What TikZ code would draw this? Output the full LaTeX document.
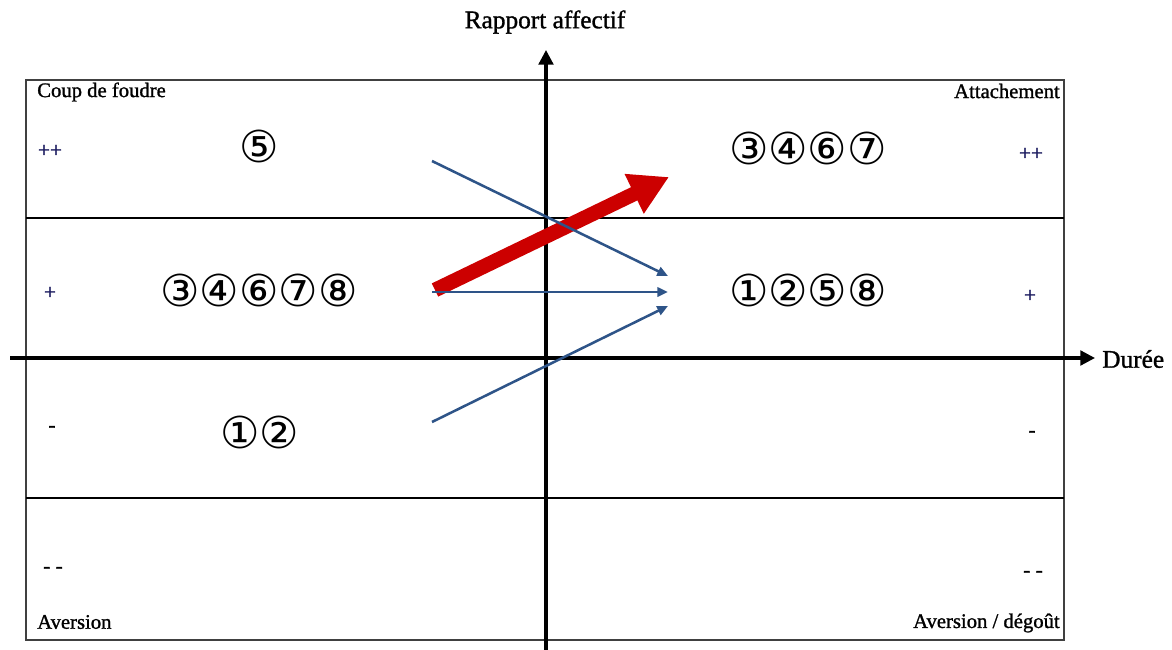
\documentclass[tikz,border=0pt]{standalone}
\usepackage{fontspec}
\setmainfont{Liberation Serif}
\newfontfamily\labelfont[FakeBold=1.2]{Liberation Serif}
\newfontfamily\circfont{DejaVu Sans}
\usetikzlibrary{arrows.meta,positioning}
\definecolor{trendblue}{RGB}{46,84,136}
\definecolor{trendred}{RGB}{204,0,0}
\definecolor{gradenavy}{RGB}{20,20,90}

\begin{document}
\begin{tikzpicture}[x=0.75pt,y=-0.75pt,
  axis/.style={line width=2.4pt,-{Triangle[length=11pt,width=11pt]}},
  frame/.style={draw=black!75,line width=1.1pt},
  corner/.style={font=\labelfont\fontsize{15.5}{17}\selectfont,inner sep=0pt},
  axislabel/.style={font=\labelfont\fontsize{19}{21}\selectfont,inner sep=0pt},
  grade/.style={font=\labelfont\fontsize{16}{18}\selectfont,text=gradenavy,inner sep=0pt},
  cases/.style={font=\circfont\fontsize{33}{35}\selectfont,inner sep=0pt},
  drift/.style={trendblue,line width=1.9pt,-{Triangle[length=8pt,width=7pt]}},
  jump/.style={trendred,line width=11pt,-{Triangle[length=29pt,width=31pt]}}]
\useasboundingbox (0,0) rectangle (1172,650);

% cadre et zones
\draw[frame] (26,80) rectangle (1064,640);
\draw[line width=1.6pt] (26,218) -- (1064,218);
\draw[line width=0.9pt] (26,498) -- (1064,498);

% axes
\node[axislabel,anchor=west] (duree) at (1102,359) {Durée};
\node[axislabel] (rapport) at (545,22) {Rapport affectif};
\coordinate (xstart) at (10,358);
\coordinate (xend) at (1095,358);
\coordinate (ystart) at (546,650);
\coordinate (yend) at (546,50);
\draw[axis] (xstart) -- (xend);
\draw[axis] (ystart) -- (yend);

% etiquettes des coins
\node[corner,anchor=west] (foudre) at (37,92) {Coup de foudre};
\node[corner,anchor=east] (attach) at (1060,91) {Attachement};
\node[corner,anchor=west] (aversion) at (37,622) {Aversion};
\node[corner,anchor=east] (degout) at (1060,623) {Aversion / dégoût};

% niveaux
\node[grade] (pp left) at (50,151) {++};
\node[grade] (pp right) at (1031,154) {++};
\node[grade] (p left) at (50,293) {+};
\node[grade] (p right) at (1030,296) {+};
\node[grade,text=black] (m left) at (52,429) {-};
\node[grade,text=black] (m right) at (1032,434) {-};
\node[grade,text=black] (mm left) at (53,570) {- -};
\node[grade,text=black] (mm right) at (1033,574) {- -};

% cas
\node[cases] (c5) at (259,146) {⑤};
\node[cases] (c3467) at (808,148) {③④⑥⑦};
\node[cases] (c34678) at (259,290) {③④⑥⑦⑧};
\node[cases] (c1258) at (808,290) {①②⑤⑧};
\node[cases] (c12) at (260,432) {①②};

% evolutions
\coordinate (from high) at (432,161);
\coordinate (from mid) at (432,292);
\coordinate (from low) at (432,422);
\coordinate (from red) at (435,290);
\coordinate (to high) at (668,276);
\coordinate (to mid) at (668,292);
\coordinate (to low) at (668,306);
\coordinate (to top) at (669,177);
\draw[jump] (from red) -- (to top);
\draw[drift] (from high) -- (to high);
\draw[drift] (from mid) -- (to mid);
\draw[drift] (from low) -- (to low);
\end{tikzpicture}
\end{document}
